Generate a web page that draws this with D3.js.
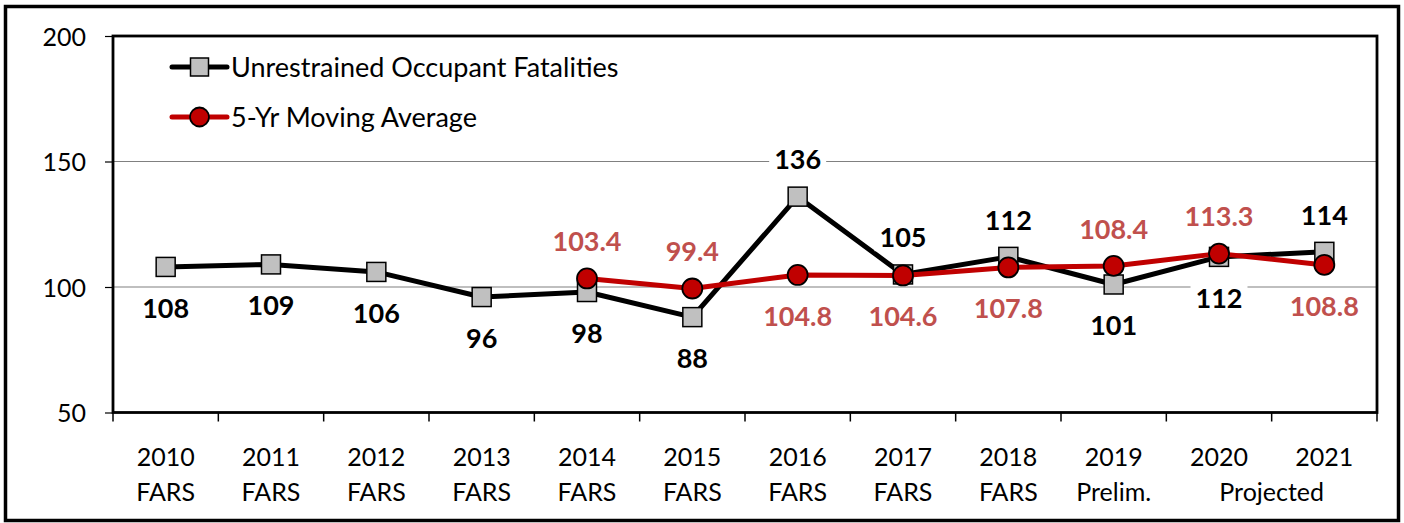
<!DOCTYPE html>
<html>
<head>
<meta charset="utf-8">
<script src="https://cdn.jsdelivr.net/npm/d3@7"></script>
<style>
  body { margin: 0; background: #fff; }
  svg { display: block; font-family: Lato, "Open Sans", sans-serif; }
</style>
</head>
<body>
<svg id="chart" width="1404" height="523"></svg>
<script>
var years = ['2010', '2011', '2012', '2013', '2014', '2015', '2016', '2017', '2018', '2019', '2020', '2021'];
var subLabels = ['FARS', 'FARS', 'FARS', 'FARS', 'FARS', 'FARS', 'FARS', 'FARS', 'FARS', 'Prelim.', '', ''];
var fatalities = [108, 109, 106, 96, 98, 88, 136, 105, 112, 101, 112, 114];
var movingAvg = [null, null, null, null, 103.4, 99.4, 104.8, 104.6, 107.8, 108.4, 113.3, 108.8];
var yTicks = [50, 100, 150, 200];

// which data labels sit above the point (true) or below it (false)
var fatalAbove = [false, false, false, false, false, false, true, true, true, false, false, true];
var avgAbove = [null, null, null, null, true, true, false, false, false, true, true, false];

var svg = d3.select('#chart');
var plot = { left: 113, right: 1377, top: 36, bottom: 412.5 };

var x = d3.scaleBand().domain(years).range([plot.left, plot.right]).padding(0);
var y = d3.scaleLinear().domain([50, 200]).range([plot.bottom, plot.top]);
var cx = function(d, i) { return x(years[i]) + x.bandwidth() / 2; };

// outer frame
svg.append('rect')
  .attr('x', 5.5).attr('y', 6.5).attr('width', 1393).attr('height', 514)
  .attr('fill', 'none').attr('stroke', '#000').attr('stroke-width', 3.5);

// gridlines
svg.append('g').selectAll('line')
  .data([100, 150])
  .join('line')
  .attr('x1', plot.left).attr('x2', plot.right)
  .attr('y1', function(d) { return y(d); }).attr('y2', function(d) { return y(d); })
  .attr('stroke', '#808080').attr('stroke-width', 1.2);

// y axis
var yAxis = svg.append('g')
  .attr('transform', 'translate(' + plot.left + ',0)')
  .call(d3.axisLeft(y).tickValues(yTicks).tickSize(8).tickPadding(19).tickFormat(d3.format('d')));
yAxis.select('.domain').remove();
yAxis.selectAll('line').attr('stroke', '#000').attr('stroke-width', 1.2);
yAxis.selectAll('text').attr('font-size', 25).attr('fill', '#000')
  .attr('font-family', 'Lato, sans-serif').attr('dy', '0.36em');

// x ticks at category boundaries
var bounds = years.map(function(d) { return x(d); }).concat([plot.right]);
svg.append('g').selectAll('line')
  .data(bounds)
  .join('line')
  .attr('x1', function(d) { return d; }).attr('x2', function(d) { return d; })
  .attr('y1', plot.bottom).attr('y2', plot.bottom + 9)
  .attr('stroke', '#000').attr('stroke-width', 1.5);

// plot frame
svg.append('rect')
  .attr('x', plot.left).attr('y', plot.top)
  .attr('width', plot.right - plot.left).attr('height', plot.bottom - plot.top)
  .attr('fill', 'none').attr('stroke', '#000').attr('stroke-width', 2.8);

// x labels
var xl = svg.append('g').attr('font-size', 25).attr('text-anchor', 'middle');
xl.selectAll('text.yr')
  .data(years)
  .join('text')
  .attr('class', 'yr')
  .attr('x', cx)
  .attr('y', 466)
  .text(function(d) { return d; });
xl.selectAll('text.sub')
  .data(subLabels)
  .join('text')
  .attr('class', 'sub')
  .attr('x', cx)
  .attr('y', 501)
  .text(function(d) { return d; });
xl.append('text')
  .attr('x', x('2021'))
  .attr('y', 501)
  .text('Projected');

// lines
var line = d3.line()
  .defined(function(d) { return d != null; })
  .x(cx)
  .y(function(d) { return y(d); });

svg.append('path')
  .datum(fatalities)
  .attr('d', line)
  .attr('fill', 'none').attr('stroke', '#000').attr('stroke-width', 5)
  .attr('stroke-linejoin', 'round');

svg.append('g').selectAll('rect')
  .data(fatalities)
  .join('rect')
  .attr('x', function(d, i) { return cx(d, i) - 9.5; })
  .attr('y', function(d) { return y(d) - 9.5; })
  .attr('width', 19).attr('height', 19)
  .attr('fill', '#c0c0c0').attr('stroke', '#000').attr('stroke-width', 1.5);

svg.append('path')
  .datum(movingAvg)
  .attr('d', line)
  .attr('fill', 'none').attr('stroke', '#c00000').attr('stroke-width', 5)
  .attr('stroke-linejoin', 'round');

svg.append('g').selectAll('circle')
  .data(movingAvg.map(function(d, i) { return { v: d, i: i }; }).filter(function(d) { return d.v != null; }))
  .join('circle')
  .attr('cx', function(d) { return cx(d.v, d.i); })
  .attr('cy', function(d) { return y(d.v); })
  .attr('r', 10)
  .attr('fill', '#c00000').attr('stroke', '#000').attr('stroke-width', 1.8);

// data labels with white boxes
function addLabels(values, above, color, fmt) {
  var g = svg.append('g').attr('font-size', 27).attr('font-weight', 'bold').attr('text-anchor', 'middle');
  values.forEach(function(v, i) {
    if (v == null) return;
    var ly = y(v) + (above[i] ? -37 : 41);
    var t = g.append('text')
      .attr('x', cx(v, i)).attr('y', ly).attr('dy', '0.36em')
      .attr('fill', color).text(fmt(v));
    var b = t.node().getBBox();
    g.insert('rect', function() { return t.node(); })
      .attr('x', b.x - 5).attr('y', b.y + 2).attr('width', b.width + 10).attr('height', b.height - 4)
      .attr('fill', '#fff');
  });
}
addLabels(fatalities, fatalAbove, '#000', d3.format('d'));
addLabels(movingAvg, avgAbove, '#c0504d', d3.format('.1f'));

// legend
var legend = [
  { name: 'Unrestrained Occupant Fatalities', color: '#000', shape: 'square', y: 67 },
  { name: '5-Yr Moving Average', color: '#c00000', shape: 'circle', y: 117 }
];
var lg = svg.append('g');
legend.forEach(function(l) {
  lg.append('line')
    .attr('x1', 172).attr('x2', 227).attr('y1', l.y).attr('y2', l.y)
    .attr('stroke', l.color).attr('stroke-width', 5).attr('stroke-linecap', 'round');
  if (l.shape === 'square') {
    lg.append('rect')
      .attr('x', 199.5 - 9).attr('y', l.y - 9).attr('width', 18).attr('height', 18)
      .attr('fill', '#c0c0c0').attr('stroke', '#000').attr('stroke-width', 1.5);
  } else {
    lg.append('circle')
      .attr('cx', 199.5).attr('cy', l.y).attr('r', 9.5)
      .attr('fill', '#c00000').attr('stroke', '#000').attr('stroke-width', 1.8);
  }
  lg.append('text')
    .attr('x', 231).attr('y', l.y).attr('dy', '0.36em')
    .attr('font-size', 27).attr('fill', '#000')
    .text(l.name);
});
</script>
</body>
</html>
